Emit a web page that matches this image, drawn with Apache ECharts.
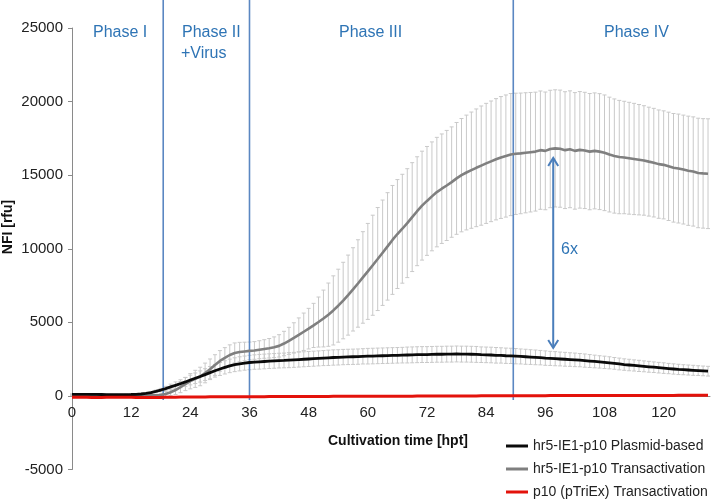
<!DOCTYPE html>
<html>
<head>
<meta charset="utf-8">
<script src="https://cdn.jsdelivr.net/npm/echarts@6/dist/echarts.min.js"></script>
<style>html,body{margin:0;padding:0;background:#fff}#c{width:712px;height:501px}</style>
</head>
<body>
<div id="c"></div>
<script>
// x positions: hours post transfection (one reading per hour)
const hours = Array.from({length: 130}, (_, i) => i);

const seriesNames = ['hr5-IE1-p10 Plasmid-based', 'hr5-IE1-p10 Transactivation', 'p10 (pTriEx) Transactivation'];

const plasmidMean = [
  110,110,105,105,100,100,95,90,90,85,85,90,95,110,130,170,230,310,400,500,
  610,720,830,950,1080,1200,1320,1450,1580,1710,1830,1940,2040,2120,2180,2230,2270,2300,2320,2340,
  2360,2380,2400,2410,2430,2450,2470,2490,2510,2530,2550,2570,2590,2610,2620,2640,2650,2660,2670,2690,
  2700,2710,2720,2730,2740,2750,2760,2770,2780,2790,2800,2810,2810,2820,2830,2830,2840,2840,2850,2840,
  2840,2830,2820,2800,2790,2780,2760,2750,2730,2720,2700,2680,2660,2640,2620,2600,2570,2550,2530,2510,
  2490,2470,2450,2430,2400,2370,2340,2310,2280,2250,2210,2170,2130,2100,2070,2040,2010,1980,1950,1920,
  1890,1860,1830,1800,1780,1760,1740,1720,1700,1680
];
const plasmidSd = [
  30,30,30,30,30,30,30,30,30,30,30,30,30,30,30,30,50,80,110,150,
  190,230,270,300,330,360,380,400,420,430,440,450,460,470,480,480,490,490,500,500,
  500,500,500,500,510,510,510,510,510,510,510,510,520,520,520,520,520,520,520,520,
  530,530,530,530,530,530,530,530,540,540,540,540,540,540,540,540,540,540,540,540,
  540,540,540,530,530,530,530,520,520,520,520,510,510,500,500,490,490,480,480,470,
  470,460,460,450,450,440,430,420,420,410,400,400,390,390,380,380,370,370,360,360,
  360,350,350,350,340,340,340,330,330,330
];
const transMean = [
  30,30,25,25,20,20,20,15,15,15,20,20,25,25,30,30,40,50,60,130,
  250,400,600,810,1000,1160,1320,1560,1810,2100,2380,2580,2780,2920,2980,3020,3060,3090,3140,3190,
  3240,3310,3400,3560,3740,3940,4150,4360,4570,4790,5020,5260,5520,5810,6130,6480,6850,7240,7640,8050,
  8460,8880,9300,9730,10160,10600,11000,11360,11740,12150,12550,12930,13250,13560,13850,14080,14300,14530,14780,15000,
  15180,15340,15500,15650,15800,15940,16080,16200,16300,16400,16450,16480,16520,16560,16600,16700,16650,16780,16820,16800,
  16700,16760,16650,16720,16680,16600,16650,16600,16520,16400,16300,16230,16200,16150,16100,16050,16000,15920,15850,15750,
  15700,15600,15500,15450,15380,15300,15250,15150,15120,15100
];
const transSd = [
  20,20,20,20,20,20,20,20,20,20,20,20,20,20,20,20,20,60,100,160,
  230,300,380,450,520,580,630,670,700,700,700,700,690,680,660,630,600,600,610,630,
  660,700,760,830,920,1030,1150,1270,1380,1500,1700,1930,2150,2350,2480,2600,2720,2830,2970,3110,
  3260,3400,3500,3580,3650,3700,3700,3700,3700,3700,3700,3700,3700,3700,3720,3720,3740,3750,3800,3850,
  3900,3950,4000,4050,4080,4100,4120,4140,4150,4150,4120,4100,4080,4060,4040,4020,4000,3990,3980,3980,
  3970,3970,3960,3960,3950,3950,3940,3940,3930,3900,3880,3850,3820,3800,3780,3750,3720,3700,3690,3680,
  3670,3680,3690,3700,3700,3710,3710,3720,3720,3730
];
const p10Mean = [
  -90,-90,-95,-95,-100,-100,-100,-95,-95,-90,-90,-90,-95,-100,-105,-110,-110,-105,-100,-95,
  -90,-85,-80,-80,-75,-75,-70,-70,-65,-65,-60,-60,-60,-55,-55,-55,-50,-50,-50,-50,
  -45,-45,-45,-45,-40,-40,-40,-40,-40,-35,-35,-35,-35,-30,-30,-30,-30,-30,-25,-25,
  -25,-25,-20,-20,-20,-20,-15,-15,-15,-15,-10,-10,-10,-10,-5,-5,-5,-5,0,0,
  0,0,0,5,5,5,5,10,10,10,10,10,15,15,15,15,15,20,20,20,
  20,20,20,25,25,25,25,25,25,30,30,30,30,30,30,30,35,35,35,35,
  35,35,35,40,40,40,40,40,40,40
];

const xTickLabels = [0, 12, 24, 36, 48, 60, 72, 84, 96, 108, 120];
const phaseBoundaries = [18.5, 36, 89.5];
const phaseLabels = ['Phase I', 'Phase II', 'Phase III', 'Phase IV'];
const arrowData = [[97.6, 16170, 3260]];
const arrowLabel = '6x';
const xTicks = {min: 0, max: 129.4, interval: 12};
const yTicks = {min: -5000, max: 25000, interval: 5000};

const FONT = 'Liberation Sans, Arial, sans-serif';
const BLUE_T = '#2e74b5';
const BLUE_L = '#5b87c2';

function errData(mean, sd) {
  return hours.map((h, i) => [h, mean[i] - sd[i], mean[i] + sd[i]]);
}
function errRender(params, api) {
  const x = api.value(0);
  const lo = api.coord([x, api.value(1)]);
  const hi = api.coord([x, api.value(2)]);
  const st = {stroke: '#c9c9c9', lineWidth: 1};
  const w = 2;
  return {type: 'group', children: [
    {type: 'line', shape: {x1: lo[0], y1: lo[1], x2: hi[0], y2: hi[1]}, style: st},
    {type: 'line', shape: {x1: hi[0] - w, y1: hi[1], x2: hi[0] + w, y2: hi[1]}, style: st},
    {type: 'line', shape: {x1: lo[0] - w, y1: lo[1], x2: lo[0] + w, y2: lo[1]}, style: st}
  ]};
}

const chart = echarts.init(document.getElementById('c'));
const option = {
  animation: false,
  backgroundColor: '#fff',
  grid: {left: 72, right: 2, top: 28, bottom: 31.5},
  legend: {
    orient: 'vertical', left: 506, top: 438, padding: 0,
    itemWidth: 22, itemHeight: 3, itemGap: 7,
    icon: 'rect',
    textStyle: {fontFamily: FONT, fontSize: 14, color: '#222', lineHeight: 16},
    data: seriesNames
  },
  xAxis: {
    type: 'value', min: xTicks.min, max: xTicks.max, interval: xTicks.interval,
    axisLine: {onZero: true, lineStyle: {color: '#8a8a8a', width: 1}},
    axisTick: {show: false},
    axisLabel: {show: false},
    splitLine: {show: false}
  },
  yAxis: {
    type: 'value', min: yTicks.min, max: yTicks.max, interval: yTicks.interval,
    axisLine: {show: true, lineStyle: {color: '#8a8a8a', width: 1}},
    axisTick: {show: true, length: 4, lineStyle: {color: '#8a8a8a'}},
    axisLabel: {fontFamily: FONT, fontSize: 15, color: '#222', margin: 9, formatter: v => String(v)},
    splitLine: {show: false}
  },
  graphic: [
    {type: 'text', left: 93, top: 25, style: {text: phaseLabels[0], font: '16px ' + FONT, fill: BLUE_T}},
    {type: 'text', left: 182, top: 25, style: {text: phaseLabels[1], font: '16px ' + FONT, fill: BLUE_T}},
    {type: 'text', left: 181, top: 46, style: {text: '+Virus', font: '16px ' + FONT, fill: BLUE_T}},
    {type: 'text', left: 339, top: 25, style: {text: phaseLabels[2], font: '16px ' + FONT, fill: BLUE_T}},
    {type: 'text', left: 604, top: 25, style: {text: phaseLabels[3], font: '16px ' + FONT, fill: BLUE_T}},
    {type: 'text', left: 561, top: 242, style: {text: arrowLabel, font: '16px ' + FONT, fill: BLUE_T}},
    {type: 'text', x: 398, y: 441, style: {text: 'Cultivation time [hpt]', font: 'bold 14px ' + FONT, fill: '#111', align: 'center', verticalAlign: 'middle'}},
    {type: 'text', x: 8, y: 227, rotation: Math.PI / 2, style: {text: 'NFI [rfu]', font: 'bold 14px ' + FONT, fill: '#111', align: 'center', verticalAlign: 'middle'}}
  ],
  series: [
    {
      type: 'custom', name: 'errTrans', renderItem: errRender, z: 1,
      data: errData(transMean, transSd), encode: {x: 0, y: [1, 2]}, silent: true
    },
    {
      type: 'custom', name: 'errPlasmid', renderItem: errRender, z: 1,
      data: errData(plasmidMean, plasmidSd), encode: {x: 0, y: [1, 2]}, silent: true
    },
    {
      type: 'custom', name: 'phaseLines', z: 2, silent: true,
      data: phaseBoundaries.map(v => [v, 0]),
      encode: {x: 0, y: 1},
      renderItem: function (params, api) {
        const p = api.coord([api.value(0), 0]);
        return {type: 'line', shape: {x1: p[0], y1: 0, x2: p[0], y2: p[1] + 4},
          style: {stroke: BLUE_L, lineWidth: 1.6}};
      }
    },
    {
      type: 'custom', name: 'xTickLabels', z: 3, silent: true,
      data: xTickLabels.map(v => [v, 0]),
      encode: {x: 0, y: 1},
      renderItem: function (params, api) {
        const v = api.value(0);
        const p = api.coord([v, 0]);
        return {type: 'text', x: p[0], y: p[1] + 17,
          style: {text: String(v), font: '15px ' + FONT, fill: '#222', align: 'center', verticalAlign: 'middle'}};
      }
    },
    {
      type: 'line', name: seriesNames[1], z: 4,
      data: hours.map((h, i) => [h, transMean[i]]),
      showSymbol: false, symbol: 'none',
      lineStyle: {color: '#7f7f7f', width: 2.6},
      itemStyle: {color: '#7f7f7f'}
    },
    {
      type: 'line', name: seriesNames[0], z: 5,
      data: hours.map((h, i) => [h, plasmidMean[i]]),
      showSymbol: false, symbol: 'none',
      lineStyle: {color: '#0a0a0a', width: 2.8},
      itemStyle: {color: '#0a0a0a'}
    },
    {
      type: 'line', name: seriesNames[2], z: 6,
      data: hours.map((h, i) => [h, p10Mean[i]]),
      showSymbol: false, symbol: 'none',
      lineStyle: {color: '#e3120b', width: 3},
      itemStyle: {color: '#e3120b'}
    },
    {
      type: 'custom', name: 'arrow', z: 7, silent: true,
      data: arrowData, encode: {x: 0, y: [1, 2]},
      renderItem: function (params, api) {
        const x = api.value(0);
        const t = api.coord([x, api.value(1)]);
        const b = api.coord([x, api.value(2)]);
        const st = {stroke: '#4a7ebb', lineWidth: 2, fill: null};
        const hw = 5, hl = 8;
        return {type: 'group', children: [
          {type: 'line', shape: {x1: t[0], y1: t[1], x2: b[0], y2: b[1]}, style: st},
          {type: 'polyline', shape: {points: [[t[0] - hw, t[1] + hl], [t[0], t[1]], [t[0] + hw, t[1] + hl]]}, style: st},
          {type: 'polyline', shape: {points: [[b[0] - hw, b[1] - hl], [b[0], b[1]], [b[0] + hw, b[1] - hl]]}, style: st}
        ]};
      }
    }
  ]
};
chart.setOption(option);
</script>
</body>
</html>
